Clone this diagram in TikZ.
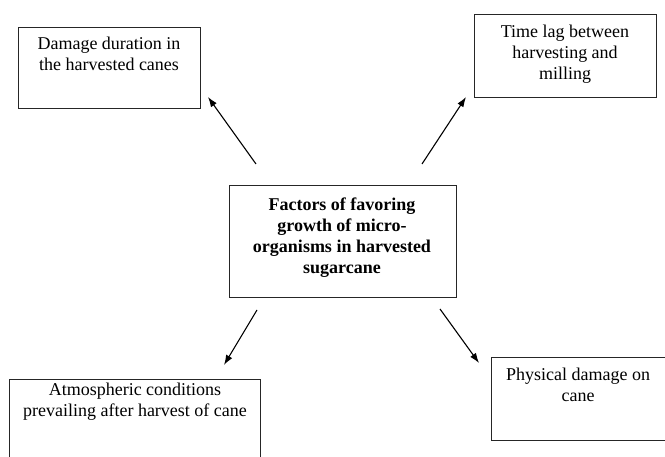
\documentclass[tikz,border=0pt]{standalone}
\usepackage{fontspec}
\setmainfont{Liberation Serif}
\usetikzlibrary{arrows.meta}
\begin{document}
\begin{tikzpicture}[x=1pt,y=-1pt,
  box/.style={draw=black!85, line width=1.2pt, rectangle, inner sep=0pt, anchor=north west},
  txt/.style={align=center, inner sep=0pt, anchor=north, font=\fontsize{18}{20.8}\selectfont},
  arr/.style={line width=1.1pt, -{Latex[length=10pt,width=7pt]}}]
\clip (0,0) rectangle (665,457);
\useasboundingbox (0,0) rectangle (665,457);
% boxes
\node[box, minimum width=182pt, minimum height=81pt] (dmg) at (18,27) {};
\node[box, minimum width=182pt, minimum height=83pt] (lag) at (474,14) {};
\node[box, minimum width=227pt, minimum height=112pt] (fac) at (229,185) {};
\node[box, minimum width=251pt, minimum height=100pt] (atm) at (9,379) {};
\node[box, minimum width=200pt, minimum height=83pt] (phy) at (491,357) {};
% texts
\node[txt] (tdmg) at (109,37) {Damage duration in\\the harvested canes};
\node[txt] (tlag) at (565,25) {Time lag between\\harvesting and\\milling};
\node[txt, font=\fontsize{18}{20.8}\selectfont\bfseries] (tfac) at (342,198) {Factors of favoring\\growth of micro-\\organisms in harvested\\sugarcane};
\node[txt] (tatm) at (135,383) {Atmospheric conditions\\prevailing after harvest of cane};
\node[txt] (tphy) at (578,368) {Physical damage on\\cane};
% arrow ends
\coordinate (a1s) at (256,164);
\coordinate (a1e) at (208,97);
\coordinate (a2s) at (422,164);
\coordinate (a2e) at (466,97);
\coordinate (a3s) at (257,310);
\coordinate (a3e) at (224,365);
\coordinate (a4s) at (440,309);
\coordinate (a4e) at (479,363);
\draw[arr] (a1s) -- (a1e);
\draw[arr] (a2s) -- (a2e);
\draw[arr] (a3s) -- (a3e);
\draw[arr] (a4s) -- (a4e);
\end{tikzpicture}
\end{document}
